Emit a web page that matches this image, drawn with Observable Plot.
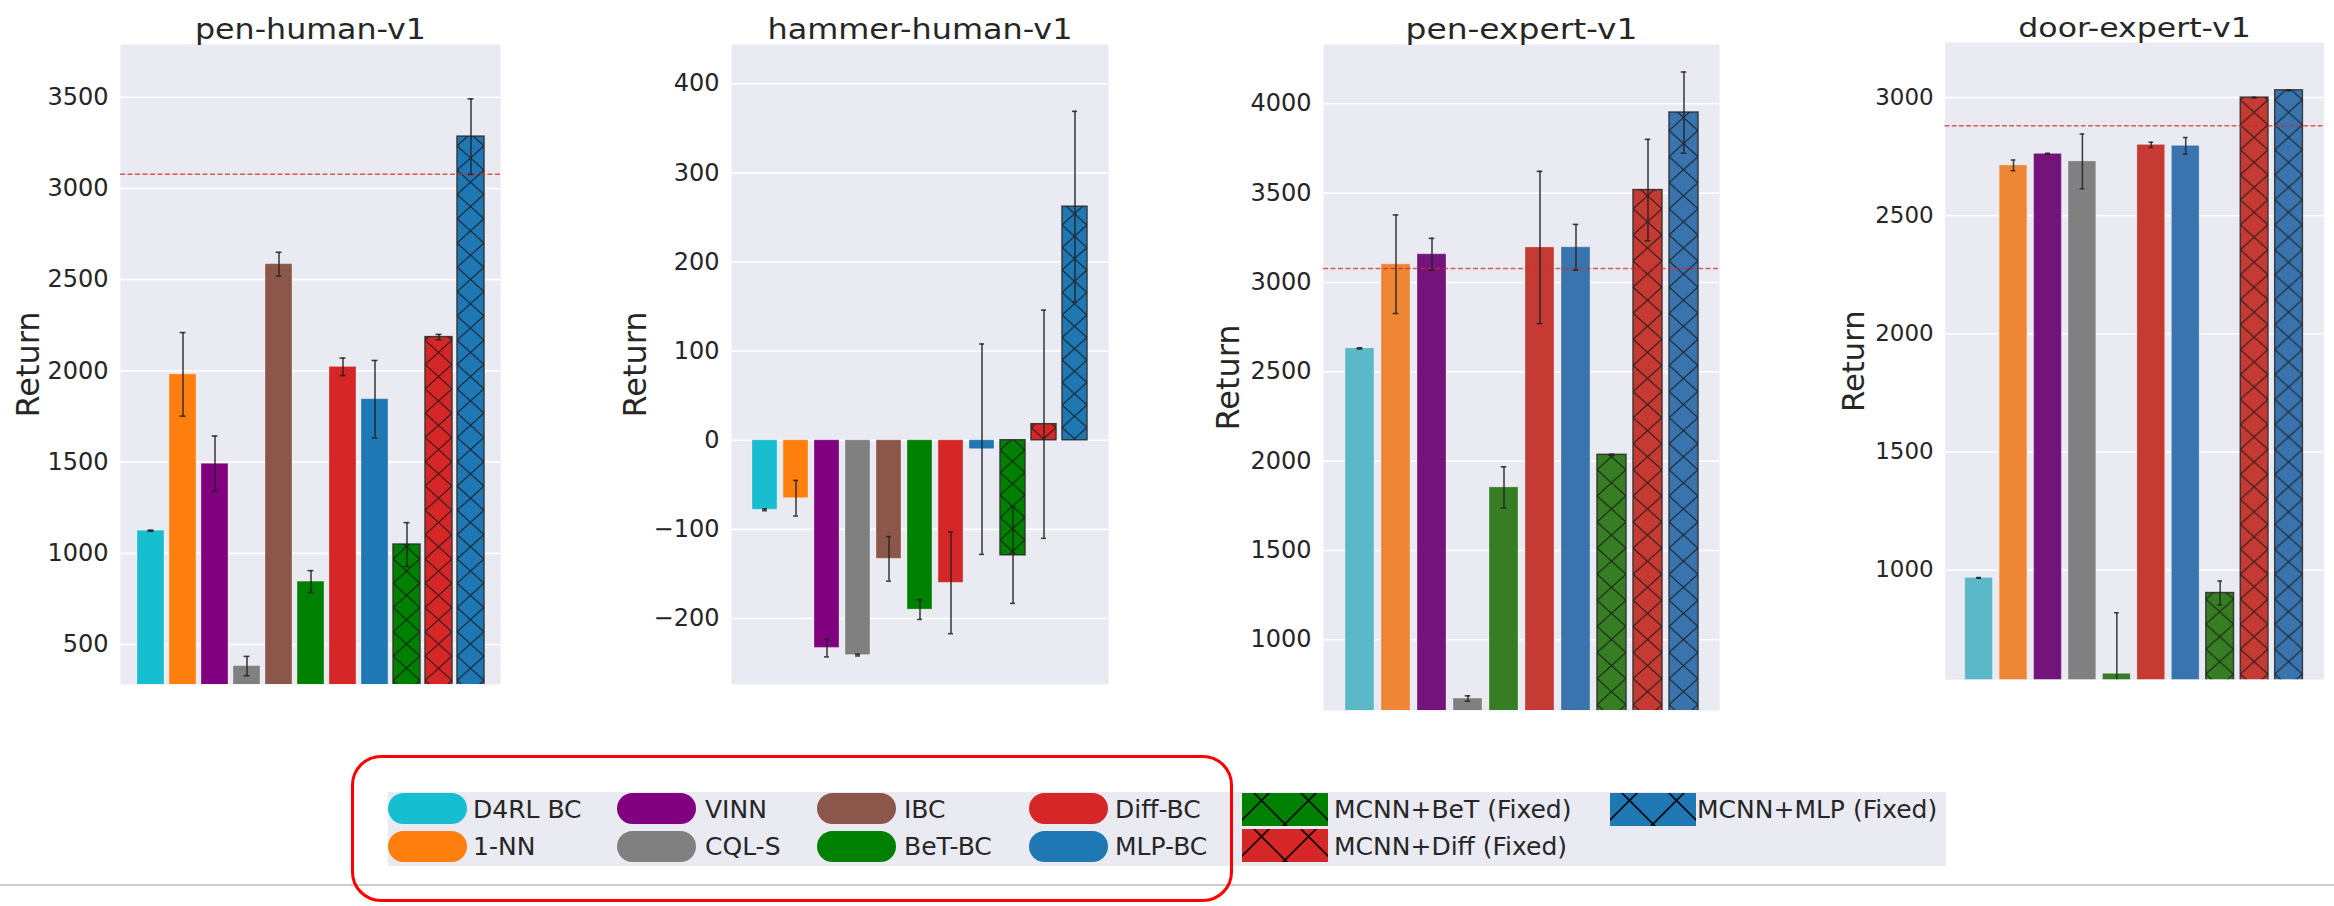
<!DOCTYPE html>
<html>
<head>
<meta charset="utf-8">
<script src="https://cdn.jsdelivr.net/npm/d3@7"></script>
<script src="https://cdn.jsdelivr.net/npm/@observablehq/plot@0.6"></script>
<style>
html, body { margin: 0; padding: 0; background: #ffffff; }
#page { position: relative; width: 2334px; height: 906px; overflow: hidden; font-family: "DejaVu Sans", sans-serif; background: #fff; }
.panel { position: absolute; top: 0; }
#legend { position: absolute; left: 388px; top: 792px; width: 1558px; height: 74px; background: #eaeaf2; }
.patch { position: absolute; }
.lab { position: absolute; font-size: 25px; line-height: 1; color: #262626; white-space: nowrap; }
#redbox { position: absolute; left: 351px; top: 755px; width: 882px; height: 147px; border: 3.5px solid #ff0000; border-radius: 30px; box-sizing: border-box; z-index: 5; }
#hr { position: absolute; left: 0; top: 884px; width: 2334px; height: 1.5px; background: #cccccc; }
</style>
</head>
<body>
<div id="page"></div>
<script>
// ---------------- DATA ----------------
const methods = ["D4RL BC", "1-NN", "VINN", "CQL-S", "IBC", "BeT-BC", "Diff-BC", "MLP-BC",
  "MCNN+BeT (Fixed)", "MCNN+Diff (Fixed)", "MCNN+MLP (Fixed)"];
const hatchedMethods = ["MCNN+BeT (Fixed)", "MCNN+Diff (Fixed)", "MCNN+MLP (Fixed)"];
const humanColors = ["#17becf", "#ff7f0e", "#800080", "#808080", "#8c564b", "#008000", "#d62728", "#1f77b4",
  "#008000", "#d62728", "#1f77b4"];
const expertMethods = ["D4RL BC", "1-NN", "VINN", "CQL-S", "BeT-BC", "Diff-BC", "MLP-BC",
  "MCNN+BeT (Fixed)", "MCNN+Diff (Fixed)", "MCNN+MLP (Fixed)"];
const expertColors = ["#5bb8c9", "#ee8636", "#74147a", "#808080", "#367d23", "#c53a33", "#3a74ae",
  "#367d23", "#c53a33", "#3a74ae"];

// pen-human-v1
const penHumanMean = [1124, 1981, 1491, 382, 2585, 845, 2022, 1845, 1048, 2185, 3284];
const penHumanErr  = [3, 229, 152, 53, 65, 60, 48, 212, 120, 15, 207];
const penHumanExpert = 3078;
const penHumanTicks = [500, 1000, 1500, 2000, 2500, 3000, 3500];

// hammer-human-v1
const hammerHumanMean = [-78, -65, -233, -241, -133, -190, -160, -10, -129, 18, 262];
const hammerHumanErr  = [1, 20, 10, 1, 25, 11, 57, 118, 54, 128, 107];
const hammerHumanTicks = [-200, -100, 0, 100, 200, 300, 400];

// pen-expert-v1
const penExpertMean = [2631, 3102, 3158, 671, 1853, 3196, 3197, 2035, 3517, 3951];
const penExpertErr  = [3, 276, 89, 15, 115, 426, 128, 3, 284, 227];
const penExpertExpert = 3078;
const penExpertTicks = [1000, 1500, 2000, 2500, 3000, 3500, 4000];

// door-expert-v1
const doorExpertMean = [967, 2713, 2762, 2730, 561, 2800, 2796, 903, 3000, 3031];
const doorExpertErr  = [2, 23, 2, 116, 258, 11, 35, 51, 2, 2];
const doorExpertExpert = 2881;
const doorExpertTicks = [1000, 1500, 2000, 2500, 3000];

// ---------------- LAYOUT ----------------
const panels = [
  {id: "p1", title: "pen-human-v1", titleLen: 231, names: methods, mean: penHumanMean, err: penHumanErr, colors: humanColors,
   ref: penHumanExpert, ticks: penHumanTicks, domain: [281, 3789],
   left: 0, width: 560, height: 720, mL: 120, mR: 60, mT: 44, mB: 36, pi: 0.16, po: 0.48, labelDx: -92},
  {id: "p2", title: "hammer-human-v1", titleLen: 305, names: methods, mean: hammerHumanMean, err: hammerHumanErr, colors: humanColors,
   ref: null, ticks: hammerHumanTicks, domain: [-274, 444],
   left: 560, width: 600, height: 720, mL: 171, mR: 52, mT: 44, mB: 36, pi: 0.18, po: 0.52, labelDx: -96},
  {id: "p3", title: "pen-expert-v1", titleLen: 232, names: expertMethods, mean: penExpertMean, err: penExpertErr, colors: expertColors,
   ref: penExpertExpert, ticks: penExpertTicks, domain: [604, 4332],
   left: 1160, width: 600, height: 740, mL: 163, mR: 41, mT: 44, mB: 30, pi: 0.2, po: 0.49, labelDx: -95},
  {id: "p4", title: "door-expert-v1", titleLen: 243, names: expertMethods, mean: doorExpertMean, err: doorExpertErr, colors: expertColors,
   ref: doorExpertExpert, ticks: doorExpertTicks, domain: [536, 3233],
   left: 1760, width: 600, height: 740, mL: 193, mR: 11, mT: 44, mB: 30, pi: 0.185, po: 0.47, labelDx: -95}
];

const page = document.getElementById("page");
const fmt = d3.format("d");

for (const cfg of panels) {
  const rows = cfg.names.map((m, i) => ({
    m, i, v: cfg.mean[i], lo: cfg.mean[i] - cfg.err[i], hi: cfg.mean[i] + cfg.err[i],
    c: cfg.colors[i], h: hatchedMethods.includes(m)
  }));
  const plotW = cfg.width - cfg.mL - cfg.mR;
  const step = plotW / (cfg.names.length - cfg.pi + 2 * cfg.po);
  const bwApprox = step * (1 - cfg.pi);
  const capInset = Math.max(0, (bwApprox - 6) / 2);

  const marks = [
    Plot.frame({fill: "#eaeaf2", stroke: "none"}),
    Plot.gridY(cfg.ticks, {stroke: "#ffffff", strokeOpacity: 1, strokeWidth: 1.6}),
    Plot.axisY(cfg.ticks, {tickSize: 0, tickPadding: 12, fontSize: 24, color: "#262626", tickFormat: fmt, label: null}),
    Plot.barY(rows, {x: "m", y: "v", fill: "c", stroke: "#ffffff", strokeOpacity: 0.3, strokeWidth: 1, clip: true}),
    Plot.barY(rows.filter(d => d.h), {x: "m", y: "v", fill: d => `url(#${cfg.id}-h${d.i})`,
      stroke: "#222222", strokeOpacity: 0.85, strokeWidth: 1.5, clip: true}),
  ];
  if (cfg.ref != null) {
    marks.push(Plot.ruleY([cfg.ref], {stroke: "#d62728", strokeOpacity: 0.75, strokeWidth: 1.6, strokeDasharray: "5,2.5"}));
  }
  marks.push(
    Plot.ruleX(rows, {x: "m", y1: "lo", y2: "hi", stroke: "#222222", strokeOpacity: 0.85, strokeWidth: 1.6, clip: true}),
    Plot.tickY(rows, {x: "m", y: "lo", stroke: "#222222", strokeOpacity: 0.85, strokeWidth: 1.6, insetLeft: capInset, insetRight: capInset, clip: true}),
    Plot.tickY(rows, {x: "m", y: "hi", stroke: "#222222", strokeOpacity: 0.85, strokeWidth: 1.6, insetLeft: capInset, insetRight: capInset, clip: true}),
    Plot.text([cfg.title], {frameAnchor: "top", dy: -6, lineAnchor: "bottom", textAnchor: "middle", fontSize: 28, fill: "#262626"}),
    Plot.text(["Return"], {frameAnchor: "left", dx: cfg.labelDx, rotate: -90, textAnchor: "middle", lineAnchor: "middle", fontSize: 32, fill: "#262626"})
  );

  const plot = Plot.plot({
    width: cfg.width, height: cfg.height,
    marginLeft: cfg.mL, marginRight: cfg.mR, marginTop: cfg.mT, marginBottom: cfg.mB,
    style: {fontFamily: "DejaVu Sans", background: "transparent", color: "#262626"},
    x: {type: "band", domain: cfg.names, paddingInner: cfg.pi, paddingOuter: cfg.po, axis: null},
    y: {domain: cfg.domain},
    color: {type: "identity"},
    marks
  });

  // hatch patterns aligned to each hatched bar
  const xs = plot.scale("x");
  const scaleX = xs.apply ? xs : Plot.scale({x: xs});
  const bw = xs.bandwidth;
  const defs = d3.select(plot).insert("defs", ":first-child");
  rows.filter(d => d.h).forEach(d => {
    const left = scaleX.apply(d.m);
    const w = bw, h = bw * 0.9;
    const p = defs.append("pattern")
      .attr("id", `${cfg.id}-h${d.i}`)
      .attr("patternUnits", "userSpaceOnUse")
      .attr("x", left).attr("y", 0)
      .attr("width", w).attr("height", h);
    p.append("path")
      .attr("d", `M${-2},${-2 * h / w} L${w + 2},${h + 2 * h / w} M${-2},${h + 2 * h / w} L${w + 2},${-2 * h / w}`)
      .attr("stroke", "#111111").attr("stroke-opacity", 0.8).attr("stroke-width", 1.2).attr("fill", "none");
  });

  const holder = document.createElement("div");
  holder.className = "panel";
  holder.style.left = cfg.left + "px";
  holder.appendChild(plot);
  page.appendChild(holder);

  d3.select(plot).selectAll("text")
    .filter(function () { return this.textContent === cfg.title; })
    .attr("textLength", cfg.titleLen).attr("lengthAdjust", "spacingAndGlyphs");
}

// ---------------- LEGEND ----------------
const legendColors = humanColors;
const legendPatchX = [388, 617, 817, 1029, 1242, 1610];
const legendTextX = [473, 705, 904, 1115, 1334, 1697];
const pillY = [793, 831];
const hatchY = [793, 829];
const textTop = [797, 834];

const legend = document.createElement("div");
legend.id = "legend";
page.appendChild(legend);

methods.forEach((m, i) => {
  const col = Math.floor(i / 2), row = i % 2;
  const patch = document.createElement("div");
  patch.className = "patch";
  if (hatchedMethods.includes(m)) {
    patch.style.left = legendPatchX[col] + "px";
    patch.style.top = hatchY[row] + "px";
    patch.style.width = "86px";
    patch.style.height = "33px";
    patch.style.backgroundColor = legendColors[i];
    patch.style.backgroundImage =
      "repeating-linear-gradient(45deg, transparent 0 31px, rgba(0,0,0,0.75) 31px 33px)," +
      "repeating-linear-gradient(-45deg, transparent 0 31px, rgba(0,0,0,0.75) 31px 33px)";
  } else {
    patch.style.left = legendPatchX[col] + "px";
    patch.style.top = pillY[row] + "px";
    patch.style.width = "79px";
    patch.style.height = "31px";
    patch.style.borderRadius = "15.5px";
    patch.style.backgroundColor = legendColors[i];
  }
  page.appendChild(patch);
  const lab = document.createElement("div");
  lab.className = "lab";
  lab.style.left = legendTextX[col] + "px";
  lab.style.top = textTop[row] + "px";
  lab.textContent = m;
  page.appendChild(lab);
});

const redbox = document.createElement("div");
redbox.id = "redbox";
page.appendChild(redbox);
const hr = document.createElement("div");
hr.id = "hr";
page.appendChild(hr);
</script>
</body>
</html>
